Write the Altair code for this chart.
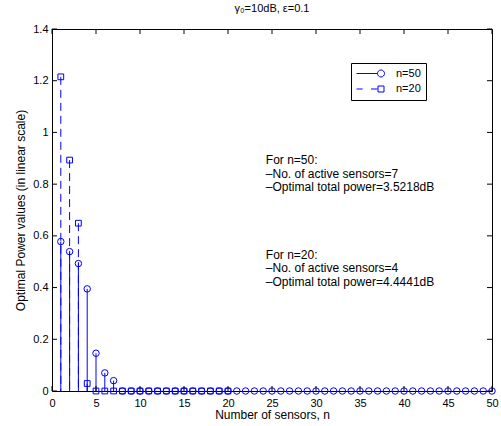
import altair as alt
import pandas as pd

FONT = "Liberation Sans"
BLUE = "#0000ff"

# Optimal power allocated to each sensor (linear scale)
sensors_n50 = list(range(1, 51))
power_n50 = [0.578, 0.539, 0.493, 0.395, 0.146, 0.070, 0.040, 0.0, 0.0, 0.0,
             0.0, 0.0, 0.0, 0.0, 0.0, 0.0, 0.0, 0.0, 0.0, 0.0,
             0.0, 0.0, 0.0, 0.0, 0.0, 0.0, 0.0, 0.0, 0.0, 0.0,
             0.0, 0.0, 0.0, 0.0, 0.0, 0.0, 0.0, 0.0, 0.0, 0.0,
             0.0, 0.0, 0.0, 0.0, 0.0, 0.0, 0.0, 0.0, 0.0, 0.0]

sensors_n20 = list(range(1, 21))
power_n20 = [1.215, 0.893, 0.649, 0.029, 0.0, 0.0, 0.0, 0.0, 0.0, 0.0,
             0.0, 0.0, 0.0, 0.0, 0.0, 0.0, 0.0, 0.0, 0.0, 0.0]

series_names = ["n=50", "n=20"]

x_tick_values = [0, 5, 10, 15, 20, 25, 30, 35, 40, 45, 50]
y_tick_values = [0, 0.2, 0.4, 0.6, 0.8, 1.0, 1.2, 1.4]

note_n50 = [" For n=50:", "\u2013No. of active sensors=7", "\u2013Optimal total power=3.5218dB"]
note_n20 = [" For n=20:", "\u2013No. of active sensors=4", "\u2013Optimal total power=4.4441dB"]

W, H = 440, 362

df50 = pd.DataFrame({"n": sensors_n50, "p": power_n50})
df20 = pd.DataFrame({"n": sensors_n20, "p": power_n20})
# each note block is anchored at its first line
notes = pd.DataFrame({
    "n": [24.3, 24.3],
    "p": [0.893, 0.526],
    "text": ["\n".join(note_n50), "\n".join(note_n20)],
})
xt = pd.DataFrame({"n": x_tick_values})
yt = pd.DataFrame({"p": y_tick_values})
legend_df = pd.DataFrame({"series": series_names})

xs = alt.Scale(domain=[0, 50], nice=False, zero=False)
ys = alt.Scale(domain=[0, 1.4], nice=False, zero=False)

x_axis = alt.Axis(
    values=x_tick_values, ticks=False, tickSize=0, domain=False, grid=False,
    labelFont=FONT, labelFontSize=11, labelColor="black", labelPadding=6,
    labelFlush=False, labelOverlap=False,
    title="Number of sensors, n", titleFont=FONT, titleFontSize=12,
    titleFontWeight="normal", titleColor="black", titlePadding=1,
)
y_axis = alt.Axis(
    values=y_tick_values, format=".1~f", ticks=False, tickSize=0, domain=False,
    grid=False, labelFont=FONT, labelFontSize=11, labelColor="black",
    labelPadding=4, labelFlush=False, labelOverlap=False,
    title="Optimal Power values (in linear scale)", titleFont=FONT,
    titleFontSize=12, titleFontWeight="normal", titleColor="black",
    titlePadding=5,
)

x_enc = alt.X("n:Q", scale=xs, axis=x_axis)
y_enc = alt.Y("p:Q", scale=ys, axis=y_axis)

stems50 = alt.Chart(df50).mark_rule(color=BLUE, strokeWidth=1).encode(
    x=x_enc, y=y_enc, y2=alt.datum(0)
)
marks50 = alt.Chart(df50).mark_point(
    shape="circle", filled=False, size=42, color=BLUE, strokeWidth=1, opacity=1
).encode(x=x_enc, y=y_enc)

stems20 = alt.Chart(df20).mark_rule(color=BLUE, strokeWidth=1, strokeDash=[8, 5]).encode(
    x=x_enc, y=y_enc, y2=alt.datum(0)
)
marks20 = alt.Chart(df20).mark_point(
    shape="square", filled=False, size=33, color=BLUE, strokeWidth=1, opacity=1
).encode(x=x_enc, y=y_enc)

# inward tick marks on all four sides of the frame
tick_style = dict(color="black", strokeWidth=1)
ticks_bottom = alt.Chart(xt).mark_rule(**tick_style).encode(
    x=x_enc, y=alt.value(H), y2=alt.value(H - 5))
ticks_top = alt.Chart(xt).mark_rule(**tick_style).encode(
    x=x_enc, y=alt.value(0), y2=alt.value(5))
ticks_left = alt.Chart(yt).mark_rule(**tick_style).encode(
    y=y_enc, x=alt.value(0), x2=alt.value(5))
ticks_right = alt.Chart(yt).mark_rule(**tick_style).encode(
    y=y_enc, x=alt.value(W), x2=alt.value(W - 5))

text_layer = alt.Chart(notes).mark_text(
    align="left", baseline="middle", lineBreak="\n", lineHeight=13.5,
    font=FONT, fontSize=12, color="black"
).encode(x=x_enc, y=y_enc, text="text:N")

# legend samples: line segment ending in the marker, as symbol paths
# inside the unit square (symbol size 784 -> 28 px wide)
PATH50 = "M-1,0H0.5M1,0A0.25,0.25,0,1,1,0.5,0A0.25,0.25,0,1,1,1,0"
PATH20 = ("M-1,0H-0.56M0.04,0H0.5"
          "M0.536,-0.214H0.964V0.214H0.536Z")

legend_layer = alt.Chart(legend_df).mark_point(
    filled=False, opacity=0, color=BLUE, size=784
).encode(
    x=alt.value(0), y=alt.value(0),
    shape=alt.Shape(
        "series:N",
        scale=alt.Scale(domain=series_names, range=[PATH50, PATH20]),
        legend=alt.Legend(
            title=None, orient="none", legendX=299, legendY=34,
            direction="vertical", symbolSize=784, symbolStrokeWidth=1,
            symbolStrokeColor=BLUE, symbolFillColor="transparent",
            symbolOpacity=1, clipHeight=11, labelFont=FONT, labelFontSize=11,
            labelColor="black", labelOffset=11, rowPadding=3.5, padding=5,
            strokeColor="black", fillColor="white", cornerRadius=0,
        ),
    ),
)

chart = alt.layer(
    stems50, marks50, stems20, marks20,
    ticks_bottom, ticks_top, ticks_left, ticks_right,
    text_layer, legend_layer,
).properties(
    width=W, height=H,
    background="white",
    title=alt.TitleParams(
        "\u03b3\u2080=10dB, \u03b5=0.1", font=FONT, fontSize=11,
        fontWeight="normal", color="black", anchor="middle", offset=9,
    ),
    autosize=alt.AutoSizeParams(type="none"),
    padding={"left": 52, "top": 29, "right": 9, "bottom": 35},
).configure_view(
    stroke="black", strokeWidth=1
)

chart.save("out.html", embed_options={"renderer": "svg", "actions": False})
